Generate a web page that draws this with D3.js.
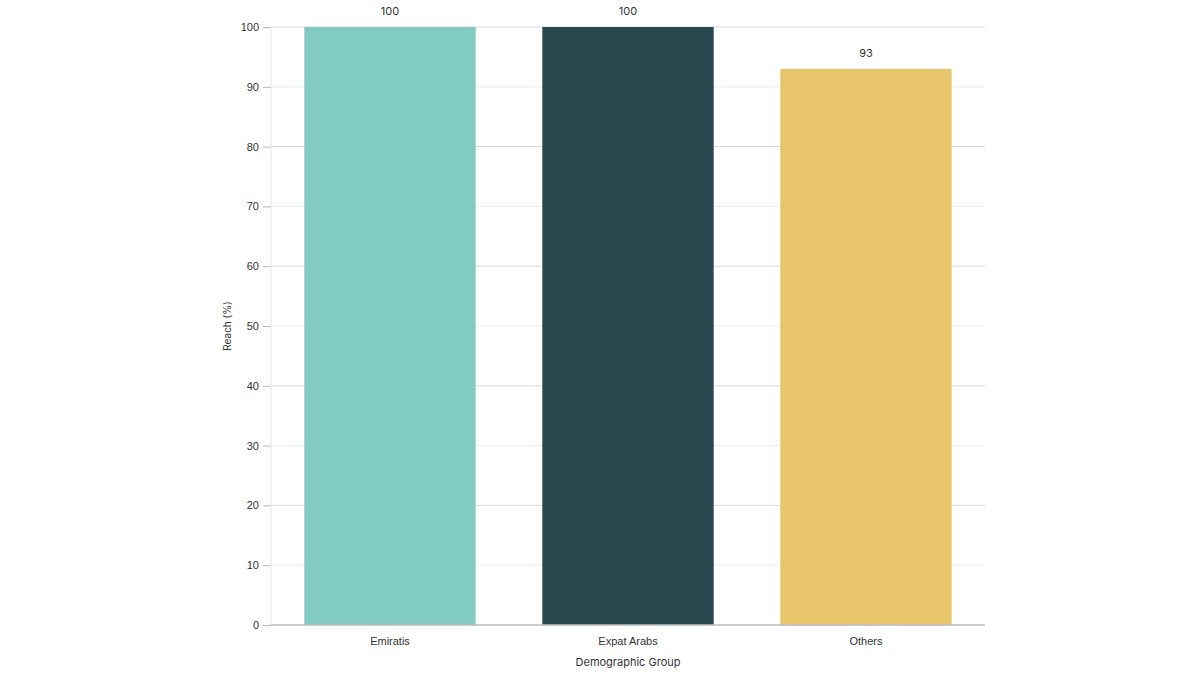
<!DOCTYPE html>
<html>
<head>
<meta charset="utf-8">
<script src="https://cdn.jsdelivr.net/npm/d3@7"></script>
<style>
  body { margin: 0; background: #fff; }
  svg { font-family: "Inter", "Open Sans", sans-serif; }
  .grid line { stroke: #d9d9d9; }
  .grid line.minor { stroke: #ececec; }
  .axis text { fill: #333; font-size: 11px; }
  .axis path, .axis line { stroke: #bbb; }
</style>
</head>
<body>
<div class="chart"></div>
<script>
"use strict"

const groups = ["Emiratis", "Expat Arabs", "Others"];
const reach = [100, 100, 93];
const colors = ["#81cbc1", "#27474f", "#e8c46a"];
const yTicks = [0, 10, 20, 30, 40, 50, 60, 70, 80, 90, 100];

let width = 1200,
    height = 675;
const margin = {top: 27, right: 215, bottom: 50, left: 271};

const svg = d3.select("div.chart").append("svg")
    .attr("width", width)
    .attr("height", height);

const scaleX = d3.scaleBand()
    .domain(groups)
    .range([margin.left, width - margin.right])
    .paddingInner(0.28)
    .paddingOuter(0.14);

const scaleY = d3.scaleLinear()
    .domain([0, 100])
    .range([height - margin.bottom, margin.top]);

// сетка
svg.append("g")
    .attr("class", "grid")
    .selectAll("line")
    .data(yTicks.filter(d => d > 0))
    .join("line")
    .attr("class", d => d % 20 === 0 ? "major" : "minor")
    .attr("x1", margin.left)
    .attr("x2", width - margin.right)
    .attr("y1", d => scaleY(d))
    .attr("y2", d => scaleY(d));

// левая линия
svg.append("line")
    .attr("x1", margin.left)
    .attr("x2", margin.left)
    .attr("y1", margin.top)
    .attr("y2", height - margin.bottom)
    .attr("stroke", "#e6e6e6");

// столбцы
svg.append("g")
    .selectAll("rect")
    .data(groups)
    .join("rect")
    .attr("x", d => scaleX(d))
    .attr("y", (d, i) => scaleY(reach[i]))
    .attr("width", scaleX.bandwidth())
    .attr("height", (d, i) => scaleY(0) - scaleY(reach[i]))
    .attr("fill", (d, i) => colors[i]);

// подписи значений
svg.append("g")
    .selectAll("text")
    .data(groups)
    .join("text")
    .attr("x", d => scaleX(d) + scaleX.bandwidth() / 2)
    .attr("y", (d, i) => scaleY(reach[i]) - 12)
    .attr("text-anchor", "middle")
    .attr("font-size", 11)
    .attr("fill", "#333")
    .text((d, i) => reach[i]);

const yAxis = d3.axisLeft(scaleY)
    .tickValues(yTicks)
    .tickSize(8)
    .tickPadding(4);

svg.append("g")
    .attr("class", "axis y-axis")
    .attr("transform", "translate(" + margin.left + ",0)")
    .call(yAxis)
    .call(g => g.select(".domain").remove())
    .call(g => g.selectAll(".tick line").attr("stroke", "#ccc"));

const xAxis = d3.axisBottom(scaleX)
    .tickSize(0)
    .tickPadding(12);

svg.append("g")
    .attr("class", "axis x-axis")
    .attr("transform", "translate(0," + scaleY(0) + ")")
    .call(xAxis)
    .call(g => g.select(".domain")
        .attr("d", "M" + margin.left + ",0H" + (width - margin.right))
        .attr("stroke", "#aaa")
        .attr("stroke-width", 1.5));

// подписи осей
svg.append("text")
    .attr("x", (margin.left + width - margin.right) / 2)
    .attr("y", 666)
    .attr("text-anchor", "middle")
    .attr("font-size", 11)
    .attr("fill", "#333")
    .text("Demographic Group");

svg.append("text")
    .attr("transform", "translate(231," + (margin.top + scaleY(0)) / 2 + ") rotate(-90)")
    .attr("text-anchor", "middle")
    .attr("font-size", 10)
    .attr("fill", "#333")
    .text("Reach (%)");
</script>
</body>
</html>
